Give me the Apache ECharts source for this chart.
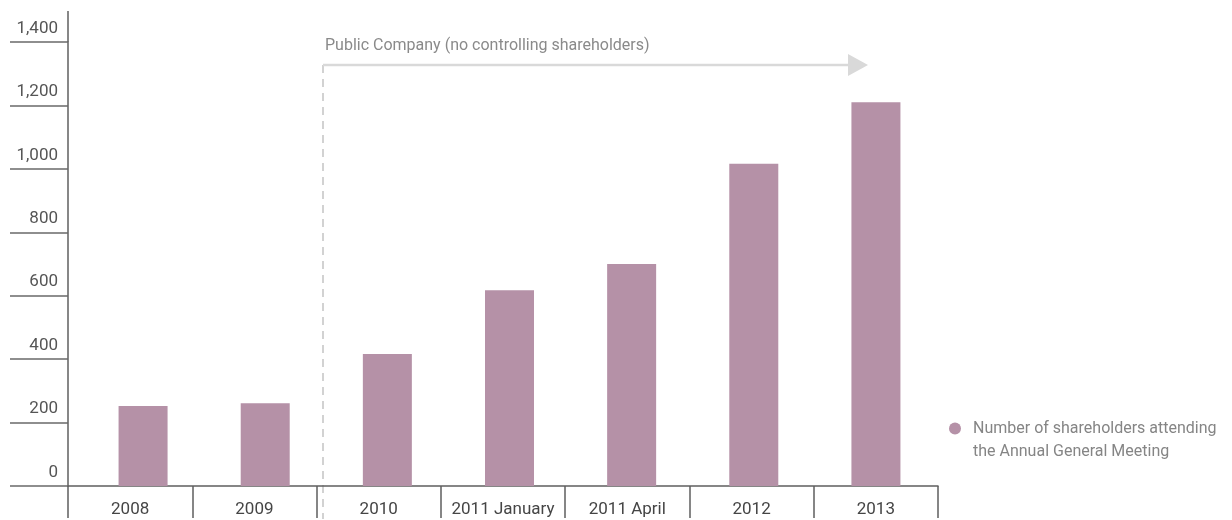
<!DOCTYPE html>
<html>
<head>
<meta charset="utf-8">
<title>Shareholders attending the AGM</title>
<script src="https://cdn.jsdelivr.net/npm/echarts@6/dist/echarts.min.js"></script>
<style>
  html, body { margin: 0; padding: 0; background: #ffffff; }
  #chart { width: 1232px; height: 520px; }
</style>
</head>
<body>
<div id="chart"></div>
<script>
// Meeting periods along the bottom axis
const categories = ['2008', '2009', '2010', '2011 January', '2011 April', '2012', '2013'];
// Shareholders attending each Annual General Meeting
const attendance = [252, 261, 416, 617, 700, 1016, 1210];
// Value axis ticks
const yTicks = [0, 200, 400, 600, 800, 1000, 1200, 1400];

const seriesName = 'Number of shareholders attending\nthe Annual General Meeting';
const barColor = '#b591a7';
const axisColor = '#5f5f5f';
const font = 'Roboto, "Noto Sans", sans-serif';

// Plot frame
const plotTop = 42;
const plotBottom = 34;
const axisLeft = 68;
const axisRight = 294;
// Bars sit on their own slightly narrower band
const barLeft = 82;
const barWidthPx = 855;

const chart = echarts.init(document.getElementById('chart'), null, { renderer: 'canvas' });

const yMin = yTicks[0];
const yMax = yTicks[yTicks.length - 1];
const yStep = yTicks[1] - yTicks[0];

chart.setOption({
  backgroundColor: '#ffffff',
  animation: false,
  textStyle: { fontFamily: font },
  grid: [
    { left: axisLeft, right: axisRight, top: plotTop, bottom: plotBottom },
    { left: barLeft, width: barWidthPx, top: plotTop, bottom: plotBottom }
  ],
  legend: {
    show: true,
    orient: 'vertical',
    left: 944,
    top: 389,
    icon: 'circle',
    itemWidth: 12,
    itemHeight: 12,
    itemGap: 10,
    selectedMode: false,
    data: [seriesName],
    // leading blank line keeps the marker level with the first text line
    formatter: (name) => '\n' + name.split('\n').map((line) => '{t|' + line + '}').join('\n'),
    textStyle: {
      color: '#858585',
      fontSize: 16,
      lineHeight: 23,
      fontFamily: font,
      rich: {
        t: {
          color: '#858585',
          fontSize: 16,
          lineHeight: 23,
          fontFamily: font,
          padding: [0, 0, 0, 7]
        }
      }
    }
  },
  xAxis: [
    {
      type: 'category',
      gridIndex: 0,
      data: categories,
      boundaryGap: true,
      axisLine: { show: true, lineStyle: { color: axisColor, width: 1.5 } },
      axisTick: {
        show: true,
        alignWithLabel: false,
        interval: 0,
        length: 32,
        lineStyle: { color: axisColor, width: 1.5 }
      },
      axisLabel: {
        interval: 0,
        margin: 15,
        color: '#454545',
        fontSize: 17,
        fontFamily: font
      },
      splitLine: { show: false }
    },
    {
      type: 'category',
      gridIndex: 1,
      data: categories,
      show: false
    }
  ],
  yAxis: [
    {
      type: 'value',
      gridIndex: 0,
      min: yMin,
      max: yMax,
      interval: yStep,
      axisLine: { show: true, lineStyle: { color: axisColor, width: 1.5 } },
      axisTick: { show: true, length: 58, lineStyle: { color: '#6a6a6a', width: 1.5 } },
      axisLabel: {
        margin: 10,
        align: 'right',
        verticalAlign: 'bottom',
        padding: [0, 0, 5, 0],
        color: '#555555',
        fontSize: 17,
        fontFamily: font,
        formatter: (v) => v.toLocaleString('en-US')
      },
      splitLine: { show: false }
    },
    {
      type: 'value',
      gridIndex: 1,
      min: yMin,
      max: yMax,
      interval: yStep,
      show: false,
      splitLine: { show: false }
    }
  ],
  series: [
    {
      name: seriesName,
      type: 'bar',
      xAxisIndex: 1,
      yAxisIndex: 1,
      data: attendance,
      barWidth: 49,
      itemStyle: { color: barColor },
      emphasis: { disabled: true }
    }
  ],
  graphic: [
    // upward continuation of the value axis
    {
      type: 'line',
      silent: true,
      shape: { x1: axisLeft, y1: 11, x2: axisLeft, y2: plotTop },
      style: { stroke: axisColor, lineWidth: 1.5 }
    },
    // dashed divider for the public-company period
    {
      type: 'line',
      silent: true,
      shape: { x1: 323, y1: 65, x2: 323, y2: 519 },
      style: { stroke: '#d2d2d2', lineWidth: 2, lineDash: [8, 6] }
    },
    // period arrow
    {
      type: 'line',
      silent: true,
      shape: { x1: 323, y1: 65, x2: 849, y2: 65 },
      style: { stroke: '#d9d9d9', lineWidth: 2.5 }
    },
    {
      type: 'polygon',
      silent: true,
      shape: { points: [[848, 54], [868, 65], [848, 76]] },
      style: { fill: '#d9d9d9' }
    },
    {
      type: 'text',
      silent: true,
      x: 325,
      y: 46,
      style: {
        text: 'Public Company (no controlling shareholders)',
        fill: '#8a8a8a',
        fontSize: 16,
        fontFamily: font,
        verticalAlign: 'middle'
      }
    }
  ]
});
</script>
</body>
</html>
